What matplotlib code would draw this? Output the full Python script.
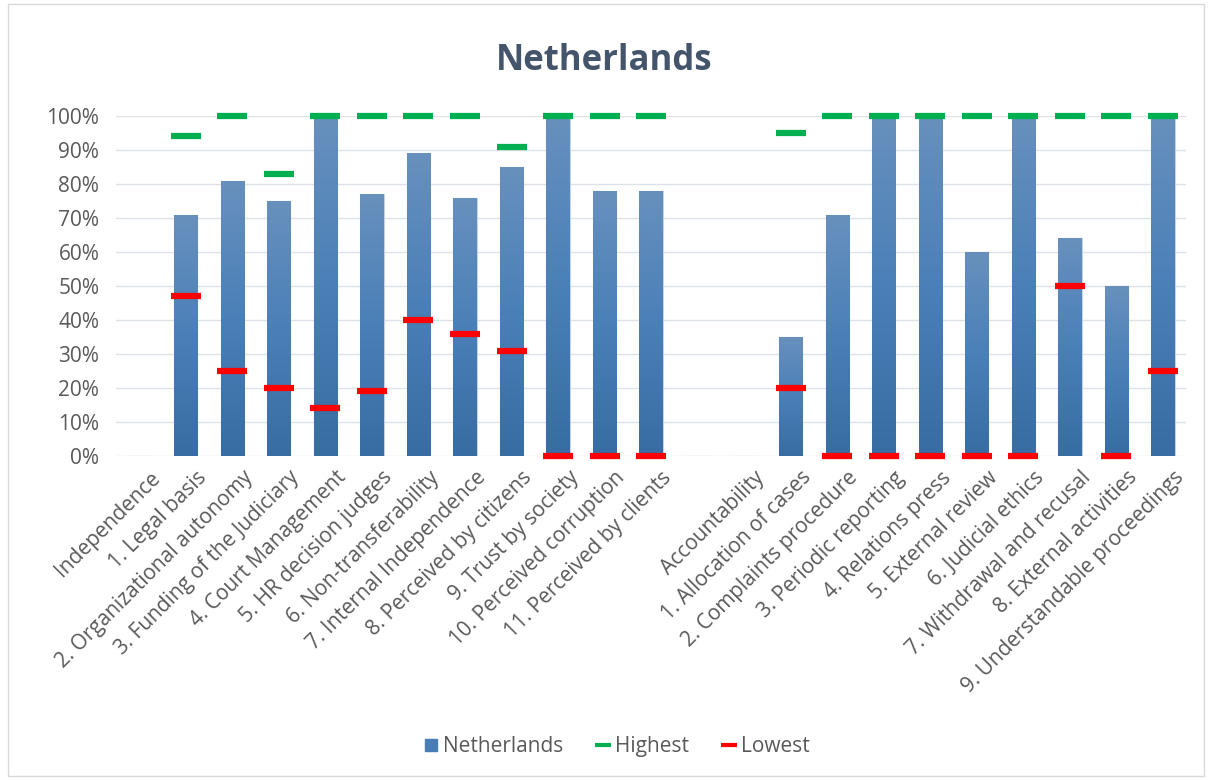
import numpy as np
import matplotlib
matplotlib.use("Agg")
import matplotlib.pyplot as plt
import matplotlib.transforms as mtrans
from matplotlib.patches import Rectangle
from matplotlib.lines import Line2D
from matplotlib.colors import LinearSegmentedColormap

plt.rcParams['font.family'] = ['Open Sans', 'DejaVu Sans']

categories = ["Independence", "1. Legal basis", "2. Organizational autonomy",
              "3. Funding of the Judiciary", "4. Court Management",
              "5. HR decision judges", "6. Non-transferability",
              "7. Internal Independence", "8. Perceived by citizens",
              "9. Trust by society", "10. Perceived corruption",
              "11. Perceived by clients", "",
              "Accountability", "1. Allocation of cases", "2. Complaints procedure",
              "3. Periodic reporting", "4. Relations press", "5. External review",
              "6. Judicial ethics", "7. Withdrawal and recusal",
              "8. External activities", "9. Understandable proceedings"]
nan = np.nan
netherlands = [nan, 71, 81, 75, 100, 77, 89, 76, 85, 100, 78, 78, nan,
               nan, 35, 71, 100, 100, 60, 100, 64, 50, 100]
highest = [nan, 94, 100, 83, 100, 100, 100, 100, 91, 100, 100, 100, nan,
           nan, 95, 100, 100, 100, 100, 100, 100, 100, 100]
lowest = [nan, 47, 25, 20, 14, 19, 40, 36, 31, 0, 0, 0, nan,
          nan, 20, 0, 0, 0, 0, 0, 50, 0, 25]

fig = plt.figure(figsize=(12.08, 7.8), dpi=100)
ax = fig.add_axes([0.096, 0.4154, 0.886, 0.4359])

x = np.arange(len(categories))
vals = np.nan_to_num(np.array(netherlands, dtype=float))
bars = ax.bar(x, vals, width=0.5, color='#4a7db3', edgecolor='#c5d3e6',
              linewidth=0.8, zorder=2)

# gradient fill inside each bar
cmap = LinearSegmentedColormap.from_list('bg', ['#386da3', '#4a80b8', '#6890bd'])
grad = np.linspace(0, 1, 256).reshape(-1, 1)
for b in bars:
    h = b.get_height()
    if h <= 0:
        continue
    x0 = b.get_x()
    im = ax.imshow(grad, extent=[x0, x0 + b.get_width(), 0, h], origin='lower',
                   cmap=cmap, aspect='auto', zorder=2.1)
    im.set_clip_path(b)

ax.plot(x, highest, linestyle='none', marker='_', markersize=22,
        markeredgewidth=4.5, color='#00b050', zorder=4, clip_on=False)
ax.plot(x, lowest, linestyle='none', marker='_', markersize=22,
        markeredgewidth=4.5, color='#ff0000', zorder=4, clip_on=False)

ax.set_xlim(-0.5, len(categories) - 0.5)
ax.set_ylim(0, 100)
ax.set_yticks(np.arange(0, 101, 10))
ax.set_yticklabels([f"{v}%" for v in range(0, 101, 10)])
ax.set_xticks(x)
ax.set_xticklabels(categories, rotation=45, ha='right', rotation_mode='anchor')
ax.tick_params(axis='both', length=0, labelsize=15, colors='#595959')
ax.tick_params(axis='x', pad=8)
ax.tick_params(axis='y', pad=12)
shift = mtrans.ScaledTranslation(10 / 100, 0, fig.dpi_scale_trans)
for lbl in ax.get_xticklabels():
    lbl.set_transform(lbl.get_transform() + shift)
ax.grid(axis='y', color='#dde1e8', linewidth=1, zorder=0)
ax.set_axisbelow(True)
for s in ax.spines.values():
    s.set_visible(False)

fig.text(0.5, 0.922, "Netherlands", ha='center', va='center', fontsize=25,
         fontweight='bold', color='#44546a')

handles = [Line2D([], [], linestyle='none', marker='s', markersize=9,
                  color='#4a7db3', label='Netherlands'),
           Line2D([], [], linestyle='none', marker='_', markersize=11,
                  markeredgewidth=3, color='#00b050', label='Highest'),
           Line2D([], [], linestyle='none', marker='_', markersize=11,
                  markeredgewidth=3, color='#ff0000', label='Lowest')]
leg = fig.legend(handles=handles, loc='center', bbox_to_anchor=(0.511, 0.043),
                 ncol=3, frameon=False, fontsize=15, handlelength=0.6,
                 columnspacing=1.6, handletextpad=0.3)
for t in leg.get_texts():
    t.set_color('#595959')

fig.patches.append(Rectangle((8 / 1208, 4 / 780), 1196 / 1208, 772 / 780,
                             transform=fig.transFigure, fill=False,
                             edgecolor='#d9d9d9', linewidth=1))

fig.savefig("out.png", dpi=100)
